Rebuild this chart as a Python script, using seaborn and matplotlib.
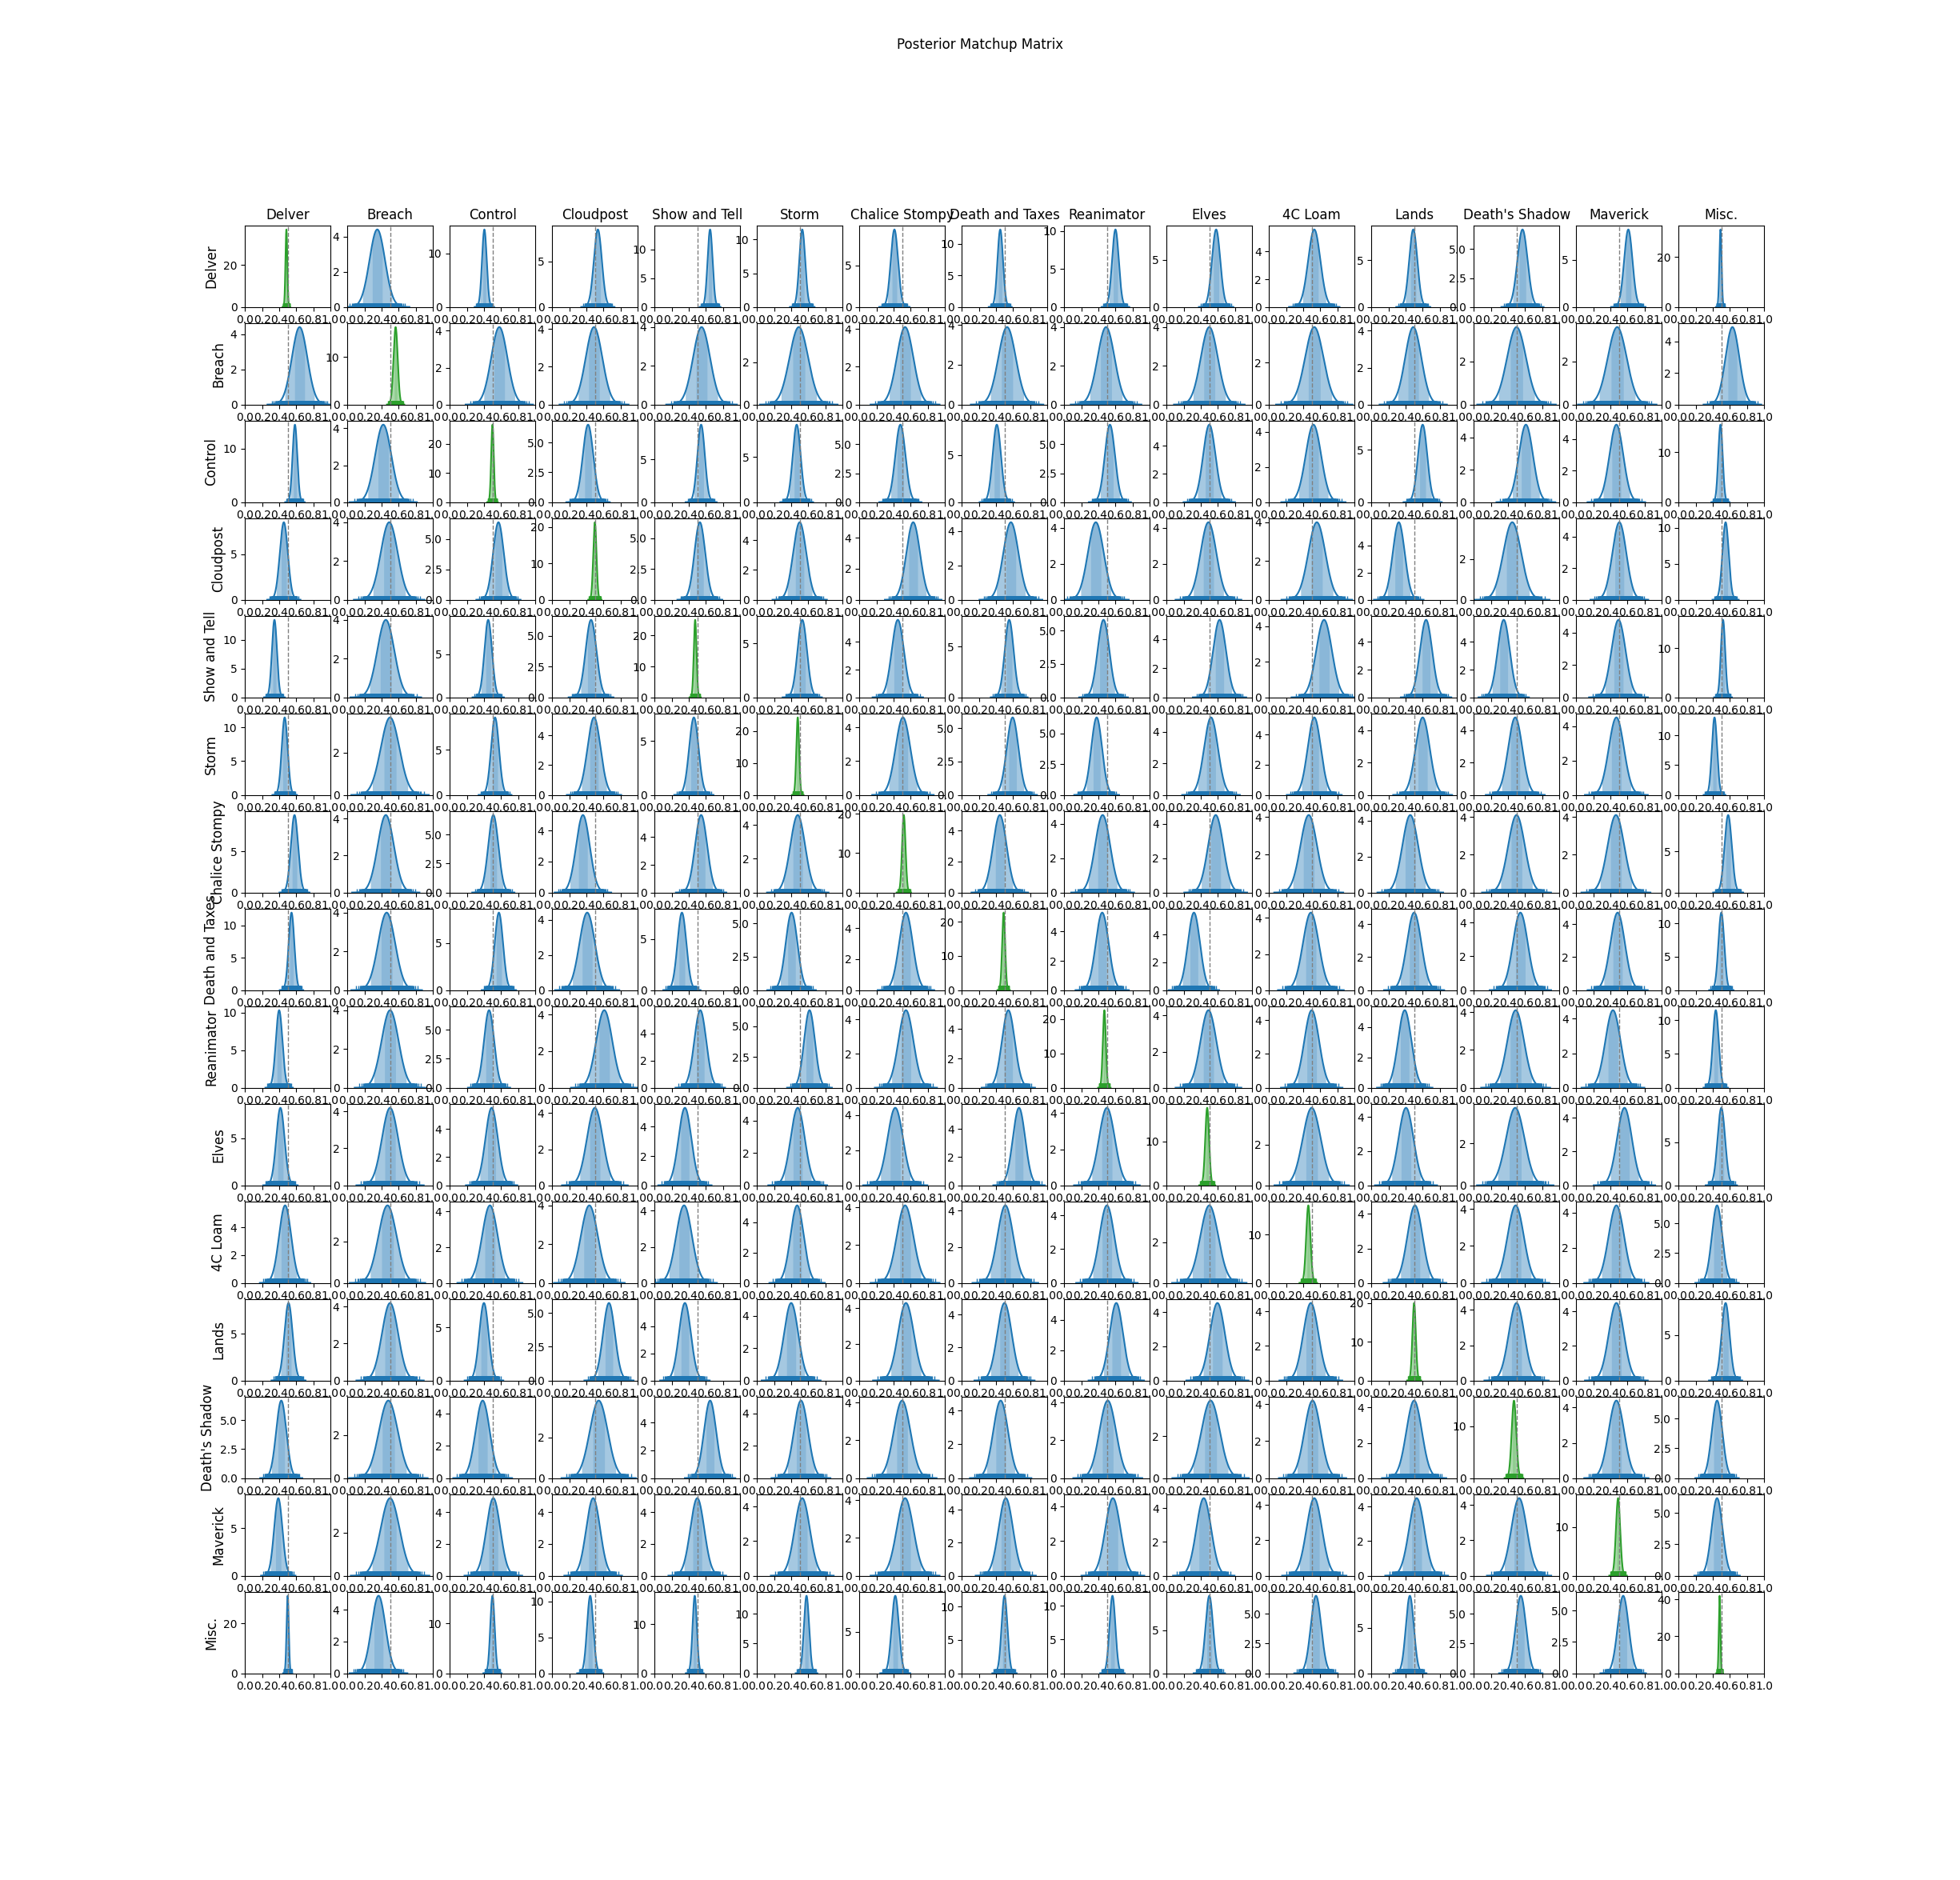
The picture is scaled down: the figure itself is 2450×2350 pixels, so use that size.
import statistics

import numpy as np
import matplotlib
matplotlib.use("Agg")
import matplotlib.pyplot as plt
import seaborn as sns

decks = [
    "Delver", "Breach", "Control", "Cloudpost", "Show and Tell", "Storm",
    "Chalice Stompy", "Death and Taxes", "Reanimator", "Elves", "4C Loam",
    "Lands", "Death's Shadow", "Maverick", "Misc.",
]

# posterior mode of the win rate, row deck vs column deck
mode_rows = [
    [0.485, 0.35, 0.405, 0.535, 0.65, 0.53, 0.41, 0.45, 0.60, 0.58, 0.53, 0.49, 0.57, 0.61, 0.49],
    [0.64, 0.565, 0.58, 0.49, 0.55, 0.49, 0.535, 0.53, 0.49, 0.50, 0.53, 0.49, 0.50, 0.48, 0.63],
    [0.585, 0.42, 0.50, 0.42, 0.545, 0.465, 0.48, 0.41, 0.535, 0.50, 0.52, 0.60, 0.61, 0.47, 0.49],
    [0.455, 0.49, 0.57, 0.50, 0.53, 0.50, 0.63, 0.575, 0.37, 0.49, 0.56, 0.32, 0.45, 0.505, 0.55],
    [0.345, 0.45, 0.45, 0.455, 0.475, 0.53, 0.45, 0.555, 0.46, 0.62, 0.645, 0.64, 0.35, 0.495, 0.52],
    [0.465, 0.50, 0.53, 0.49, 0.46, 0.477, 0.51, 0.595, 0.38, 0.52, 0.53, 0.60, 0.485, 0.47, 0.42],
    [0.58, 0.45, 0.51, 0.36, 0.545, 0.477, 0.52, 0.445, 0.45, 0.575, 0.465, 0.455, 0.50, 0.465, 0.58],
    [0.545, 0.46, 0.575, 0.41, 0.32, 0.405, 0.545, 0.49, 0.445, 0.32, 0.49, 0.50, 0.545, 0.485, 0.50],
    [0.40, 0.50, 0.46, 0.61, 0.535, 0.615, 0.545, 0.545, 0.47, 0.49, 0.50, 0.39, 0.49, 0.43, 0.435],
    [0.415, 0.50, 0.49, 0.50, 0.355, 0.477, 0.42, 0.67, 0.50, 0.475, 0.50, 0.405, 0.485, 0.565, 0.50],
    [0.47, 0.47, 0.47, 0.435, 0.345, 0.47, 0.535, 0.51, 0.50, 0.50, 0.46, 0.51, 0.49, 0.47, 0.45],
    [0.51, 0.50, 0.40, 0.665, 0.355, 0.40, 0.545, 0.50, 0.61, 0.595, 0.49, 0.50, 0.50, 0.47, 0.55],
    [0.425, 0.48, 0.385, 0.545, 0.65, 0.515, 0.50, 0.455, 0.51, 0.515, 0.51, 0.50, 0.47, 0.47, 0.45],
    [0.39, 0.50, 0.51, 0.48, 0.50, 0.53, 0.535, 0.515, 0.57, 0.435, 0.53, 0.53, 0.53, 0.49, 0.45],
    [0.50, 0.365, 0.50, 0.445, 0.47, 0.58, 0.42, 0.50, 0.565, 0.50, 0.55, 0.45, 0.55, 0.55, 0.48],
]

# peak density of each posterior
peak_rows = [
    [37, 4.4, 14.5, 8.5, 13.5, 11.5, 9.3, 12.3, 10.2, 8.2, 5.6, 8.3, 6.7, 8.2, 31],
    [4.4, 16.3, 4.2, 4.1, 4.0, 3.65, 4.1, 3.9, 4.0, 4.0, 3.7, 4.2, 3.6, 3.6, 4.9],
    [14.5, 4.2, 26.5, 6.5, 9.1, 8.6, 6.7, 8.2, 6.7, 5.5, 4.4, 7.4, 4.8, 4.9, 15.5],
    [8.5, 4.0, 6.4, 21.3, 6.3, 5.2, 5.0, 4.5, 4.3, 4.3, 4.0, 5.7, 3.8, 4.9, 10.8],
    [13.5, 4.0, 9.0, 6.3, 25.1, 7.2, 5.6, 7.65, 5.8, 5.3, 4.35, 5.6, 5.6, 4.8, 15.8],
    [11.5, 3.65, 8.6, 5.2, 7.2, 24.2, 4.6, 5.8, 6.3, 4.9, 5.15, 4.8, 4.8, 4.5, 13],
    [9.4, 4.2, 6.7, 5.0, 5.6, 4.6, 19.7, 5.0, 4.5, 4.5, 4.1, 4.3, 4.1, 4.1, 9.4],
    [12.0, 4.0, 8.2, 4.4, 7.6, 5.8, 5.0, 22.7, 5.3, 5.6, 4.3, 4.7, 4.6, 4.7, 11.6],
    [10.3, 4.0, 6.7, 4.25, 5.7, 6.3, 4.55, 5.3, 22.6, 4.3, 4.6, 5.1, 4.1, 4.5, 11.5],
    [8.2, 4.2, 5.5, 4.3, 5.3, 4.8, 4.4, 5.5, 4.3, 17.6, 3.8, 4.55, 3.7, 4.6, 9.0],
    [5.6, 3.75, 4.35, 4.0, 4.3, 5.1, 4.1, 4.3, 4.6, 3.8, 16, 4.5, 4.2, 4.4, 6.5],
    [8.3, 4.2, 7.3, 5.75, 5.7, 4.8, 4.3, 4.7, 5.1, 4.55, 4.5, 20, 4.4, 4.5, 8.5],
    [6.7, 3.6, 4.8, 3.8, 5.6, 4.8, 4.1, 4.6, 4.1, 3.7, 4.2, 4.4, 15, 4.4, 6.5],
    [8.2, 3.6, 4.9, 4.9, 4.9, 4.5, 4.1, 4.7, 4.5, 4.6, 4.4, 4.5, 4.4, 16, 6.2],
    [31, 4.9, 15.5, 10.8, 15.8, 13, 9.4, 11.6, 11.5, 9.0, 6.5, 8.5, 6.5, 6.2, 42],
]

x_ticks = [0.0, 0.2, 0.4, 0.6, 0.8, 1.0]

N_DRAWS = 4000
probs = (np.arange(N_DRAWS) + 0.5) / N_DRAWS
# the KDE (Scott bandwidth) widens the curve slightly, undo that
bw_widen = np.sqrt(1 + N_DRAWS ** -0.4)


def posterior_draws(center, peak):
    # evenly spaced quantiles of a normal with the given mode / peak height
    sd = 1.0 / (np.sqrt(2 * np.pi) * peak * bw_widen)
    dist = statistics.NormalDist(center, sd)
    return np.array([dist.inv_cdf(p) for p in probs])


n = len(decks)
fig, axes = plt.subplots(n, n, figsize=(24.5, 23.5), dpi=100)

for i, row_deck in enumerate(decks):
    for j, col_deck in enumerate(decks):
        ax = axes[i, j]
        color = "tab:green" if i == j else "tab:blue"
        draws = posterior_draws(mode_rows[i][j], peak_rows[i][j])

        sns.kdeplot(x=draws, ax=ax, color=color, linewidth=1.5)
        kde_line = ax.lines[-1]
        xs = kde_line.get_xdata()
        ys = kde_line.get_ydata()
        lo, q1, q3, hi = np.quantile(draws, [0.025, 0.25, 0.75, 0.975])
        ax.fill_between(xs, ys, where=(xs >= lo) & (xs <= hi),
                        color=color, alpha=0.4, linewidth=0)
        ax.fill_between(xs, ys, where=(xs >= q1) & (xs <= q3),
                        color=color, alpha=0.2, linewidth=0)
        sns.rugplot(x=draws, ax=ax, color=color, height=0.05, linewidth=1,
                    expand_margins=False)
        ax.axvline(0.5, color="gray", linestyle="--", linewidth=1)

        ax.set_xlim(0, 1)
        ax.set_xticks(x_ticks)
        ax.set_ylim(0, ys.max() * 1.05)
        ax.set_xlabel("")
        ax.set_ylabel(row_deck if j == 0 else "", fontsize=12)
        if i == 0:
            ax.set_title(col_deck, fontsize=12)

fig.suptitle("Posterior Matchup Matrix")
fig.savefig("out.png", dpi=100)
